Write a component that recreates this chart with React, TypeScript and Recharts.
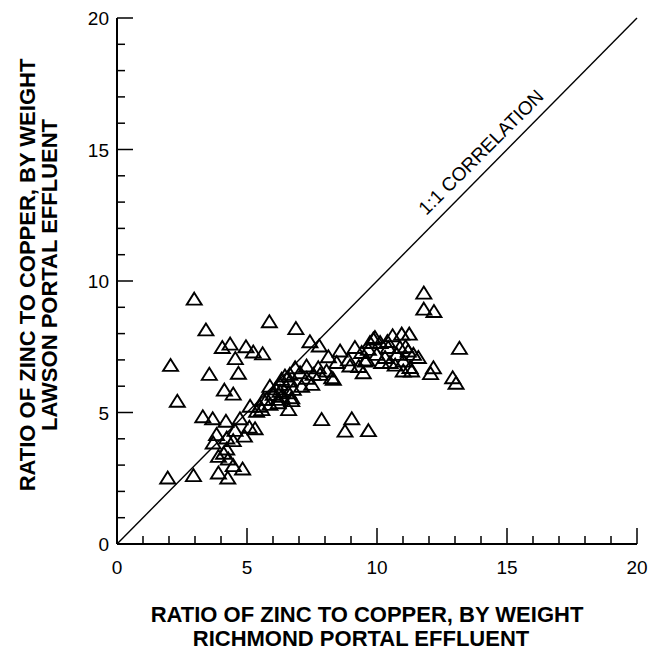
import React from "react";
import {
  ScatterChart,
  Scatter,
  XAxis,
  YAxis,
  ReferenceLine,
  ReferenceDot,
} from "recharts";

// tick positions (every unit, labelled every 5)
const xTicks = [0, 1, 2, 3, 4, 5, 6, 7, 8, 9, 10, 11, 12, 13, 14, 15, 16, 17, 18, 19, 20];
const yTicks = [0, 1, 2, 3, 4, 5, 6, 7, 8, 9, 10, 11, 12, 13, 14, 15, 16, 17, 18, 19, 20];

// zinc/copper ratio, Richmond portal effluent
const richmond = [
  2.97, 3.42, 2.06, 2.32, 1.95, 2.94, 4.05, 4.35, 4.96, 5.24, 5.6, 4.55, 5.86, 6.88,
  3.55, 4.67, 4.13, 4.47, 3.3, 3.68, 4.19, 4.54, 4.73, 5.09, 5.31, 3.83, 4.22, 4.47,
  3.7, 4.22, 3.9, 4.28, 4.47, 4.83, 3.9, 4.26, 4.9, 4.1,
  5.12, 5.37, 5.88, 5.63, 6.27, 6.6, 6.6, 6.33, 6.65, 6.85, 5.88, 6.2, 6.72, 5.57,
  5.76, 6.01, 6.33, 6.72, 6.27, 6.46, 6.65, 6.78, 7.1, 7.49, 7.04, 7.29, 7.55, 7.74,
  8.06, 8.26, 8.13, 8.45, 8.96, 9.54, 9.47, 7.42, 7.78, 8.58, 9.15, 9.67, 9.73, 9.92,
  7.87, 9.03, 8.77, 9.67, 6.2, 5.5,
  11.8, 11.8, 12.19, 13.17, 12.17, 12.06, 12.91, 13.04, 11.24, 10.95, 10.6, 9.86,
  10.12, 10.43, 9.99, 10.88, 11.2, 11.4, 11.59, 10.76, 10.31, 11.01, 10.5, 10.18,
  11.27, 11.01, 11.33, 10.7, 9.6, 9.41, 8.32, 7.81, 8.9, 9.3, 11.1, 10.4, 6.1, 7.3,
];

// zinc/copper ratio, Lawson portal effluent
const lawson = [
  9.31, 8.14, 6.79, 5.43, 2.51, 2.6, 7.47, 7.6, 7.5, 7.3, 7.23, 7.05, 8.45, 8.19,
  6.45, 6.49, 5.85, 5.7, 4.84, 4.76, 4.67, 4.32, 4.76, 4.44, 4.38, 4.16, 4.03, 3.93,
  3.84, 3.61, 3.33, 3.23, 2.98, 2.85, 2.7, 2.51, 4.1, 3.45,
  5.24, 5.05, 5.31, 5.5, 5.81, 5.75, 5.11, 6.26, 6.45, 6.7, 6.0, 5.5, 5.45, 5.11,
  5.5, 5.69, 5.62, 5.56, 6.07, 6.39, 6.2, 5.88, 6.0, 6.07, 6.51, 6.77, 6.45, 6.7,
  6.58, 6.32, 7.12, 6.9, 6.77, 6.96, 6.51, 7.69, 7.53, 7.34, 7.47, 7.4, 7.66, 7.85,
  4.73, 4.76, 4.29, 4.31, 5.37, 5.24,
  9.54, 8.93, 8.84, 7.44, 6.7, 6.48, 6.32, 6.11, 7.98, 7.98, 7.92, 7.79,
  7.66, 7.47, 7.21, 7.47, 7.34, 7.21, 7.09, 7.21, 7.09, 6.96, 6.9, 6.9,
  6.71, 6.58, 6.58, 6.8, 7.0, 7.28, 6.26, 6.45, 7.0, 6.75, 7.5, 7.7, 5.9, 6.3,
];

const points = richmond.map((x, i) => ({ x, y: lawson[i] }));

const FONT = "'Liberation Sans', Arial, Helvetica, sans-serif";
const MINOR = 8;
const MAJOR = 16;
const TITLE_SIZE = 22;

const BottomTick = ({ x, y, payload }: any) => {
  const major = payload.value % 5 === 0;
  return (
    <g>
      <line x1={x} y1={y} x2={x} y2={y - (major ? MAJOR : MINOR)} stroke="#000" strokeWidth={1.5} />
      {major && (
        <text x={x} y={y + 30} textAnchor="middle" fontSize={19} fontFamily={FONT} fill="#000">
          {payload.value}
        </text>
      )}
    </g>
  );
};

const TopTick = ({ x, y, payload }: any) => {
  const major = payload.value % 5 === 0;
  return <line x1={x} y1={y} x2={x} y2={y + (major ? MAJOR : MINOR)} stroke="#000" strokeWidth={1.5} />;
};

const LeftTick = ({ x, y, payload }: any) => {
  const major = payload.value % 5 === 0;
  return (
    <g>
      <line x1={x} y1={y} x2={x + (major ? MAJOR : MINOR)} y2={y} stroke="#000" strokeWidth={1.5} />
      {major && (
        <text x={x - 8} y={y + 7} textAnchor="end" fontSize={19} fontFamily={FONT} fill="#000">
          {payload.value}
        </text>
      )}
    </g>
  );
};

const RightTick = ({ x, y, payload }: any) => {
  const major = payload.value % 5 === 0;
  return <line x1={x} y1={y} x2={x - (major ? MAJOR : MINOR)} y2={y} stroke="#000" strokeWidth={1.5} />;
};

const XTitle = ({ viewBox }: any) => {
  const cx = viewBox.x + viewBox.width / 2 - 10;
  const style = { fontSize: TITLE_SIZE, fontWeight: "bold" as const, fontFamily: FONT, fill: "#000" };
  return (
    <g>
      <text x={cx} y={viewBox.y + 78} textAnchor="middle" {...style}>
        RATIO OF ZINC TO COPPER, BY WEIGHT
      </text>
      <text x={cx - 6} y={viewBox.y + 102} textAnchor="middle" {...style}>
        RICHMOND PORTAL EFFLUENT
      </text>
    </g>
  );
};

const YTitle = ({ viewBox }: any) => {
  const cy = viewBox.y + viewBox.height / 2 - 6;
  const style = { fontSize: TITLE_SIZE, fontWeight: "bold" as const, fontFamily: FONT, fill: "#000" };
  return (
    <g>
      <text x={35} y={cy} textAnchor="middle" transform={`rotate(-90, 35, ${cy})`} {...style}>
        RATIO OF ZINC TO COPPER, BY WEIGHT
      </text>
      <text x={57} y={cy} textAnchor="middle" transform={`rotate(-90, 57, ${cy})`} {...style}>
        LAWSON PORTAL EFFLUENT
      </text>
    </g>
  );
};

const CorrelationLabel = ({ viewBox }: any) => {
  const cx = viewBox.x + viewBox.width / 2;
  const cy = viewBox.y + viewBox.height / 2;
  return (
    <text
      x={cx}
      y={cy}
      textAnchor="middle"
      dominantBaseline="central"
      transform={`rotate(-45, ${cx}, ${cy})`}
      fontSize={19}
      fontFamily={FONT}
      fill="#000"
    >
      1:1 CORRELATION
    </text>
  );
};

const Triangle = ({ cx, cy }: any) => (
  <path
    d={`M${cx},${cy - 6.5} L${cx + 7.5},${cy + 5.5} L${cx - 7.5},${cy + 5.5} Z`}
    fill="none"
    stroke="#000"
    strokeWidth={1.9}
  />
);

export default function App() {
  return (
    <div style={{ position: "absolute", left: 0, top: 0, background: "#fff" }}>
      <ScatterChart width={667} height={654} margin={{ top: 18, right: 30, bottom: 0, left: 0 }}>
        <XAxis
          type="number"
          dataKey="x"
          domain={[0, 20]}
          ticks={xTicks}
          interval={0}
          height={110}
          tickSize={0}
          tickMargin={0}
          tickLine={false}
          tick={<BottomTick />}
          axisLine={{ stroke: "#000", strokeWidth: 2 }}
          label={<XTitle />}
        />
        <XAxis
          xAxisId="top"
          orientation="top"
          type="number"
          domain={[0, 20]}
          ticks={xTicks}
          interval={0}
          height={0}
          tickSize={0}
          tickMargin={0}
          tickLine={false}
          tick={<TopTick />}
          axisLine={{ stroke: "#000", strokeWidth: 2 }}
        />
        <YAxis
          type="number"
          dataKey="y"
          domain={[0, 20]}
          ticks={yTicks}
          interval={0}
          width={117}
          tickSize={0}
          tickMargin={0}
          tickLine={false}
          tick={<LeftTick />}
          axisLine={{ stroke: "#000", strokeWidth: 2 }}
          label={<YTitle />}
        />
        <YAxis
          yAxisId="right"
          orientation="right"
          type="number"
          domain={[0, 20]}
          ticks={yTicks}
          interval={0}
          width={0}
          tickSize={0}
          tickMargin={0}
          tickLine={false}
          tick={<RightTick />}
          axisLine={{ stroke: "#000", strokeWidth: 2 }}
        />
        <ReferenceLine
          segment={[
            { x: 0, y: 0 },
            { x: 20, y: 20 },
          ]}
          stroke="#000"
          strokeWidth={1.4}
        />
        <ReferenceDot
          x={14.0}
          y={14.9}
          r={1}
          fill="none"
          stroke="none"
          label={<CorrelationLabel />}
        />
        <Scatter data={points} shape={<Triangle />} isAnimationActive={false} />
      </ScatterChart>
    </div>
  );
}
